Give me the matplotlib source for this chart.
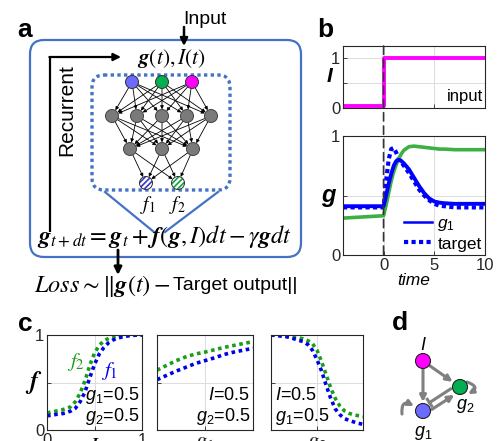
import numpy as np
import matplotlib
matplotlib.use('Agg')
import matplotlib.pyplot as plt
from matplotlib.patches import Circle, FancyBboxPatch, FancyArrowPatch, ConnectionPatch
from matplotlib.lines import Line2D

plt.rcParams['font.family'] = ['Liberation Sans', 'DejaVu Sans']
plt.rcParams['mathtext.fontset'] = 'custom'
plt.rcParams['mathtext.rm'] = 'Liberation Sans'
plt.rcParams['mathtext.it'] = 'Liberation Sans:italic'
plt.rcParams['mathtext.bf'] = 'Liberation Sans:bold'
plt.rcParams['hatch.linewidth'] = 1.2

W, H = 497, 441

# ---------------- panel b: input and trained response ----------------
t_in = [-4, 0, 0, 10]
I_in = [0.05, 0.05, 1.0, 1.0]

t_g = [-4, -3, -2, -1, 0, 0.25, 0.5, 0.75, 1.0, 1.25, 1.5, 1.75, 2.0,
       2.5, 3.0, 3.5, 4.0, 4.5, 5.0, 5.5, 6, 7, 8, 9, 10]
g1 = [0.41, 0.41, 0.41, 0.41, 0.41, 0.50, 0.60, 0.68, 0.75, 0.79, 0.80, 0.79, 0.77,
      0.72, 0.65, 0.58, 0.52, 0.475, 0.45, 0.44, 0.435, 0.43, 0.43, 0.43, 0.43]
g2 = [0.31, 0.315, 0.32, 0.325, 0.33, 0.42, 0.52, 0.62, 0.70, 0.76, 0.81, 0.85, 0.88,
      0.91, 0.915, 0.91, 0.905, 0.90, 0.895, 0.89, 0.89, 0.885, 0.885, 0.885, 0.885]
target = [0.40, 0.40, 0.40, 0.40, 0.40, 0.62, 0.80, 0.89, 0.90, 0.86, 0.81, 0.78, 0.75,
          0.69, 0.62, 0.55, 0.50, 0.46, 0.43, 0.415, 0.41, 0.40, 0.40, 0.40, 0.40]

# ---------------- panel c: learned f vs one variable ----------------
x_I = [0, 0.05, 0.1, 0.15, 0.2, 0.25, 0.3, 0.35, 0.4, 0.45, 0.5,
       0.55, 0.6, 0.65, 0.7, 0.75, 0.8, 0.85, 0.9, 0.95, 1.0]
f2_vs_I = [0.18, 0.19, 0.20, 0.21, 0.225, 0.245, 0.30, 0.39, 0.52, 0.68, 0.81,
           0.89, 0.94, 0.965, 0.98, 0.99, 0.995, 1.0, 1.0, 1.0, 1.0]
f1_vs_I = [0.15, 0.155, 0.165, 0.17, 0.18, 0.20, 0.23, 0.30, 0.40, 0.55, 0.69,
           0.80, 0.87, 0.92, 0.95, 0.97, 0.98, 0.99, 0.995, 1.0, 1.0]

x_g1 = [0, 0.1, 0.2, 0.3, 0.4, 0.5, 0.6, 0.7, 0.8, 0.9, 1.0]
f2_vs_g1 = [0.63, 0.68, 0.73, 0.77, 0.80, 0.82, 0.845, 0.87, 0.89, 0.91, 0.93]
f1_vs_g1 = [0.53, 0.575, 0.62, 0.66, 0.70, 0.73, 0.76, 0.795, 0.82, 0.84, 0.86]

x_g2 = x_I
f2_vs_g2 = [1.0, 1.0, 0.995, 0.99, 0.985, 0.975, 0.97, 0.96, 0.94, 0.91, 0.84,
            0.72, 0.58, 0.44, 0.33, 0.25, 0.20, 0.175, 0.16, 0.15, 0.14]
f1_vs_g2 = [1.0, 0.995, 0.99, 0.985, 0.975, 0.96, 0.945, 0.93, 0.90, 0.84, 0.74,
            0.62, 0.47, 0.33, 0.22, 0.16, 0.12, 0.10, 0.085, 0.07, 0.06]

BLUE_FRAME = '#4472c4'
C_BLUE = '#0000ff'
C_GREEN = '#3cb043'
C_MAG = '#ff00ff'
C_GRAY = '#808080'

fig = plt.figure(figsize=(W / 100, H / 100), dpi=100)

# full-figure canvas in pixel units for the schematics
ax0 = fig.add_axes([0, 0, 1, 1])
ax0.set_xlim(0, W)
ax0.set_ylim(H, 0)
ax0.axis('off')


def px_axes(x0, y0, x1, y1):
    return fig.add_axes([x0 / W, 1 - y1 / H, (x1 - x0) / W, (y1 - y0) / H])


def style(ax):
    for s in ax.spines.values():
        s.set_color('#262626')
        s.set_linewidth(0.8)
    ax.tick_params(direction='in', length=3, width=0.6, labelsize=12, pad=2,
                   colors='#262626')
    ax.grid(True, color='#dddddd', lw=0.7)
    ax.set_axisbelow(True)


# panel labels
for lab, x, y in [('a', 25, 30), ('b', 325, 30), ('c', 25, 324), ('d', 400, 323)]:
    ax0.text(x, y, lab, fontsize=19, fontweight='bold', ha='center', va='center')

# ---------------- panel a: network schematic ----------------
ax0.add_patch(FancyBboxPatch((30, 40), 271, 217, boxstyle='round,pad=0,rounding_size=14',
                             fc='none', ec=BLUE_FRAME, lw=1.6))
ax0.add_patch(FancyBboxPatch((92, 75), 138, 115, boxstyle='round,pad=0,rounding_size=12',
                             fc='none', ec=BLUE_FRAME, lw=2.4, ls=(0, (1, 1))))
ax0.plot([105, 154], [192, 232], color=BLUE_FRAME, lw=1.6)
ax0.plot([218, 165], [192, 232], color=BLUE_FRAME, lw=1.6)

layers = [
    [(132, 82), (162, 82), (192, 82)],
    [(112, 116), (137, 116), (162, 116), (187, 116), (211, 116)],
    [(130, 149), (162, 149), (193, 149)],
    [(146, 183), (178, 183)],
]
for a_layer, b_layer in zip(layers[:-1], layers[1:]):
    for p in a_layer:
        for q in b_layer:
            ax0.annotate('', xy=q, xytext=p,
                         arrowprops=dict(arrowstyle='-|>', lw=0.6, color='k',
                                         shrinkA=4.5, shrinkB=4.8, mutation_scale=5))
r_node = 6.5
for (x, y), c in zip(layers[0], ['#6b6bff', '#00b050', '#ff00ff']):
    ax0.add_patch(Circle((x, y), r_node, fc=c, ec='#333333', lw=0.7, zorder=3))
for layer in layers[1:3]:
    for (x, y) in layer:
        ax0.add_patch(Circle((x, y), r_node, fc='#7a7a7a', ec='#444444', lw=0.7, zorder=3))
for (x, y), c in zip(layers[3], ['#3535d0', '#10a040']):
    ax0.add_patch(Circle((x, y), r_node, fc='white', ec=c, lw=0, hatch='//////', zorder=3))
    ax0.add_patch(Circle((x, y), r_node, fc='none', ec='#333333', lw=0.7, zorder=4))

ax0.text(148, 205, r'$f_1$', math_fontfamily='stix', fontsize=14, ha='center', va='center')
ax0.text(177, 205, r'$f_2$', math_fontfamily='stix', fontsize=14, ha='center', va='center')

ax0.text(205, 19, 'Input', fontsize=14, ha='center', va='center')
ax0.annotate('', xy=(184, 46), xytext=(184, 27),
             arrowprops=dict(arrowstyle='-|>', lw=1.8, color='k', mutation_scale=11,
                             shrinkA=0, shrinkB=0))
ax0.text(172, 58, r'$\mathbfit{g}(t), I(t)$', math_fontfamily='stix', fontsize=15.5,
         ha='center', va='center')

# recurrent loop
ax0.plot([50, 50], [232, 57], color='k', lw=1.6, solid_capstyle='butt')
ax0.annotate('', xy=(121, 57), xytext=(49.4, 57),
             arrowprops=dict(arrowstyle='-|>', lw=1.6, color='k', mutation_scale=11,
                             shrinkA=0, shrinkB=0))
ax0.text(67, 110, 'Recurrent', fontsize=15, rotation=90, ha='center', va='center')

ax0.text(164, 237, r'$\mathbfit{g}_{t+dt} = \mathbfit{g}_t + \mathbfit{f}(\mathbfit{g}, I)dt - \gamma\mathbfit{g}dt$',
         math_fontfamily='stix', fontsize=17.5, ha='center', va='center')
ax0.annotate('', xy=(118, 275), xytext=(118, 250),
             arrowprops=dict(arrowstyle='-|>', lw=2.0, color='k', mutation_scale=11,
                             shrinkA=0, shrinkB=0))
ax0.text(170, 286, r'$Loss\sim\Vert\mathbfit{g}(t) -$', math_fontfamily='stix', fontsize=17.5,
         ha='right', va='center')
ax0.text(173, 286, 'Target output||', fontsize=14, ha='left', va='center')

# ---------------- panel b ----------------
ax_i = px_axes(343, 46, 485, 108)
style(ax_i)
ax_i.plot(t_in, I_in, color=C_MAG, lw=2.8)
ax_i.set_xlim(-4, 10)
ax_i.set_ylim(0, 1.25)
ax_i.set_xticks([0, 5, 10])
ax_i.set_xticklabels([])
ax_i.set_yticks([0, 0.5, 1])
ax_i.set_yticklabels(['0', '', '1'])
ax_i.set_ylabel('I', fontsize=15, style='italic', fontweight='bold', rotation=0,
                ha='center', va='center')
ax_i.yaxis.set_label_coords(-0.092, 0.5)
ax_i.text(0.985, 0.06, 'input', transform=ax_i.transAxes, ha='right', va='bottom', fontsize=12)

ax_g = px_axes(343, 136, 485, 255)
style(ax_g)
ax_g.plot(t_g, target, color=C_BLUE, lw=3, ls=(0, (1, 0.8)))
ax_g.plot(t_g, g2, color=C_GREEN, lw=2.6)
ax_g.plot(t_g, g1, color=C_BLUE, lw=2.8)
ax_g.set_xlim(-4, 10)
ax_g.set_ylim(0, 1)
ax_g.set_xticks([0, 5, 10])
ax_g.set_yticks([0, 0.5, 1])
ax_g.set_yticklabels(['0', '', '1'])
ax_g.set_ylabel('g', fontsize=17, style='italic', fontweight='bold', rotation=0,
                ha='center', va='center')
ax_g.yaxis.set_label_coords(-0.105, 0.5)
ax_g.set_xlabel('time', fontsize=12.5, style='italic', labelpad=0)
handles = [Line2D([], [], color=C_BLUE, lw=1.8),
           Line2D([], [], color=C_BLUE, lw=3, ls=(0, (1, 0.8)))]
ax_g.legend(handles, ['$g_1$', 'target'], loc='lower right', frameon=False, fontsize=12.5,
            handlelength=1.6, handletextpad=0.3, labelspacing=0.2, borderaxespad=0.1,
            borderpad=0.1)

fig.add_artist(ConnectionPatch(xyA=(0, 1.25), coordsA=ax_i.transData,
                               xyB=(0, 0), coordsB=ax_g.transData,
                               color='#333333', lw=1.2, ls=(0, (5, 3)), zorder=10))

# ---------------- panel c ----------------
C_DOT_G = '#1a9e1a'
C_DOT_B = '#0000e6'
dots = (0, (1, 1))
panels = [
    ((47, 142), x_I, f2_vs_I, f1_vs_I, '$I$'),
    ((157, 253), x_g1, f2_vs_g1, f1_vs_g1, '$g_1$'),
    ((271, 363), x_g2, f2_vs_g2, f1_vs_g2, '$g_2$'),
]
axes_c = []
for (x0, x1), xs, fa, fb, xl in panels:
    ax = px_axes(x0, 335, x1, 430)
    style(ax)
    ax.plot(xs, fa, color=C_DOT_G, lw=2.6, ls=dots)
    ax.plot(xs, fb, color=C_DOT_B, lw=2.6, ls=dots)
    ax.set_xlim(0, 1)
    ax.set_ylim(0, 1)
    ax.set_xticks([0, 0.5, 1])
    ax.set_yticks([0, 0.5, 1])
    ax.set_yticklabels([])
    ax.set_xticklabels(['', xl, ''], math_fontfamily='stix', fontsize=16)
    axes_c.append(ax)

axes_c[0].set_yticklabels(['0', '', '1'])
axes_c[0].set_xticklabels(['0', '', '1'], fontsize=12)
axes_c[0].text(0.5, -0.075, '$I$', transform=axes_c[0].transAxes, math_fontfamily='stix',
               fontsize=16, ha='center', va='top')
axes_c[0].set_ylabel(r'$\mathbfit{f}$', math_fontfamily='stix', fontsize=18, rotation=0,
                     ha='center', va='center')
axes_c[0].yaxis.set_label_coords(-0.145, 0.5)
axes_c[0].text(0.30, 0.72, '$f_2$', color=C_DOT_G, math_fontfamily='stix', fontsize=15,
               transform=axes_c[0].transAxes, ha='center', va='center')
axes_c[0].text(0.66, 0.62, '$f_1$', color=C_DOT_B, math_fontfamily='stix', fontsize=15,
               transform=axes_c[0].transAxes, ha='center', va='center')


def two_lines(ax, lines, left):
    x = 0.04 if left else 0.97
    ha = 'left' if left else 'right'
    ax.text(x, 0.36, lines[0], transform=ax.transAxes, ha=ha, va='center', fontsize=13)
    ax.text(x, 0.14, lines[1], transform=ax.transAxes, ha=ha, va='center', fontsize=13)


two_lines(axes_c[0], ['$g_1$=0.5', '$g_2$=0.5'], False)
two_lines(axes_c[1], ['$I$=0.5', '$g_2$=0.5'], False)
two_lines(axes_c[2], ['$I$=0.5', '$g_1$=0.5'], True)

# ---------------- panel d: network motif ----------------
nI, n1, n2 = (423, 361), (423, 411), (460, 387)
r_d = 7.5
gray_kw = dict(color=C_GRAY, lw=2.2)

ax0.add_patch(FancyArrowPatch(nI, n1, arrowstyle='-|>', mutation_scale=9, shrinkA=6, shrinkB=6.5,
                              **gray_kw))
ax0.add_patch(FancyArrowPatch(nI, n2, arrowstyle='-|>', mutation_scale=9, shrinkA=6, shrinkB=6.5,
                              **gray_kw))
d = np.array(n2) - np.array(n1)
u = d / np.hypot(*d)
perp = np.array([u[1], -u[0]])
# g1 -> g2 activation (lower line)
a0 = np.array(n1) - perp * 3.5
a1 = np.array(n2) - perp * 3.5
ax0.add_patch(FancyArrowPatch(tuple(a0), tuple(a1), arrowstyle='-|>', mutation_scale=9,
                              shrinkA=6, shrinkB=6.5, **gray_kw))
# g2 -| g1 repression (upper line)
b0 = np.array(n2) + perp * 3.5 - u * 9
b1 = np.array(n1) + perp * 3.5 + u * 10
ax0.plot([b0[0], b1[0]], [b0[1], b1[1]], **gray_kw)
ax0.plot([b1[0] - perp[0] * 4, b1[0] + perp[0] * 4],
         [b1[1] - perp[1] * 4, b1[1] + perp[1] * 4], **gray_kw)
# self loops
ax0.add_patch(FancyArrowPatch((402, 414), (414, 406), connectionstyle='arc3,rad=-0.9',
                              arrowstyle='-|>', mutation_scale=8, shrinkA=0, shrinkB=0, **gray_kw))
ax0.add_patch(FancyArrowPatch((467, 382), (468, 394), connectionstyle='arc3,rad=-1.1',
                              arrowstyle='-|>', mutation_scale=7, shrinkA=0, shrinkB=0, **gray_kw))

for (x, y), c in zip([nI, n1, n2], ['#ff00ff', '#6b6bff', '#00b050']):
    ax0.add_patch(Circle((x, y), r_d, fc=c, ec='#222222', lw=0.8, zorder=5))
ax0.text(423, 346, '$I$', fontsize=13, ha='center', va='center')
ax0.text(465, 406, '$g_2$', fontsize=13, ha='center', va='center')
ax0.text(423, 433, '$g_1$', fontsize=13, ha='center', va='center')

fig.savefig('out.png', dpi=100)
